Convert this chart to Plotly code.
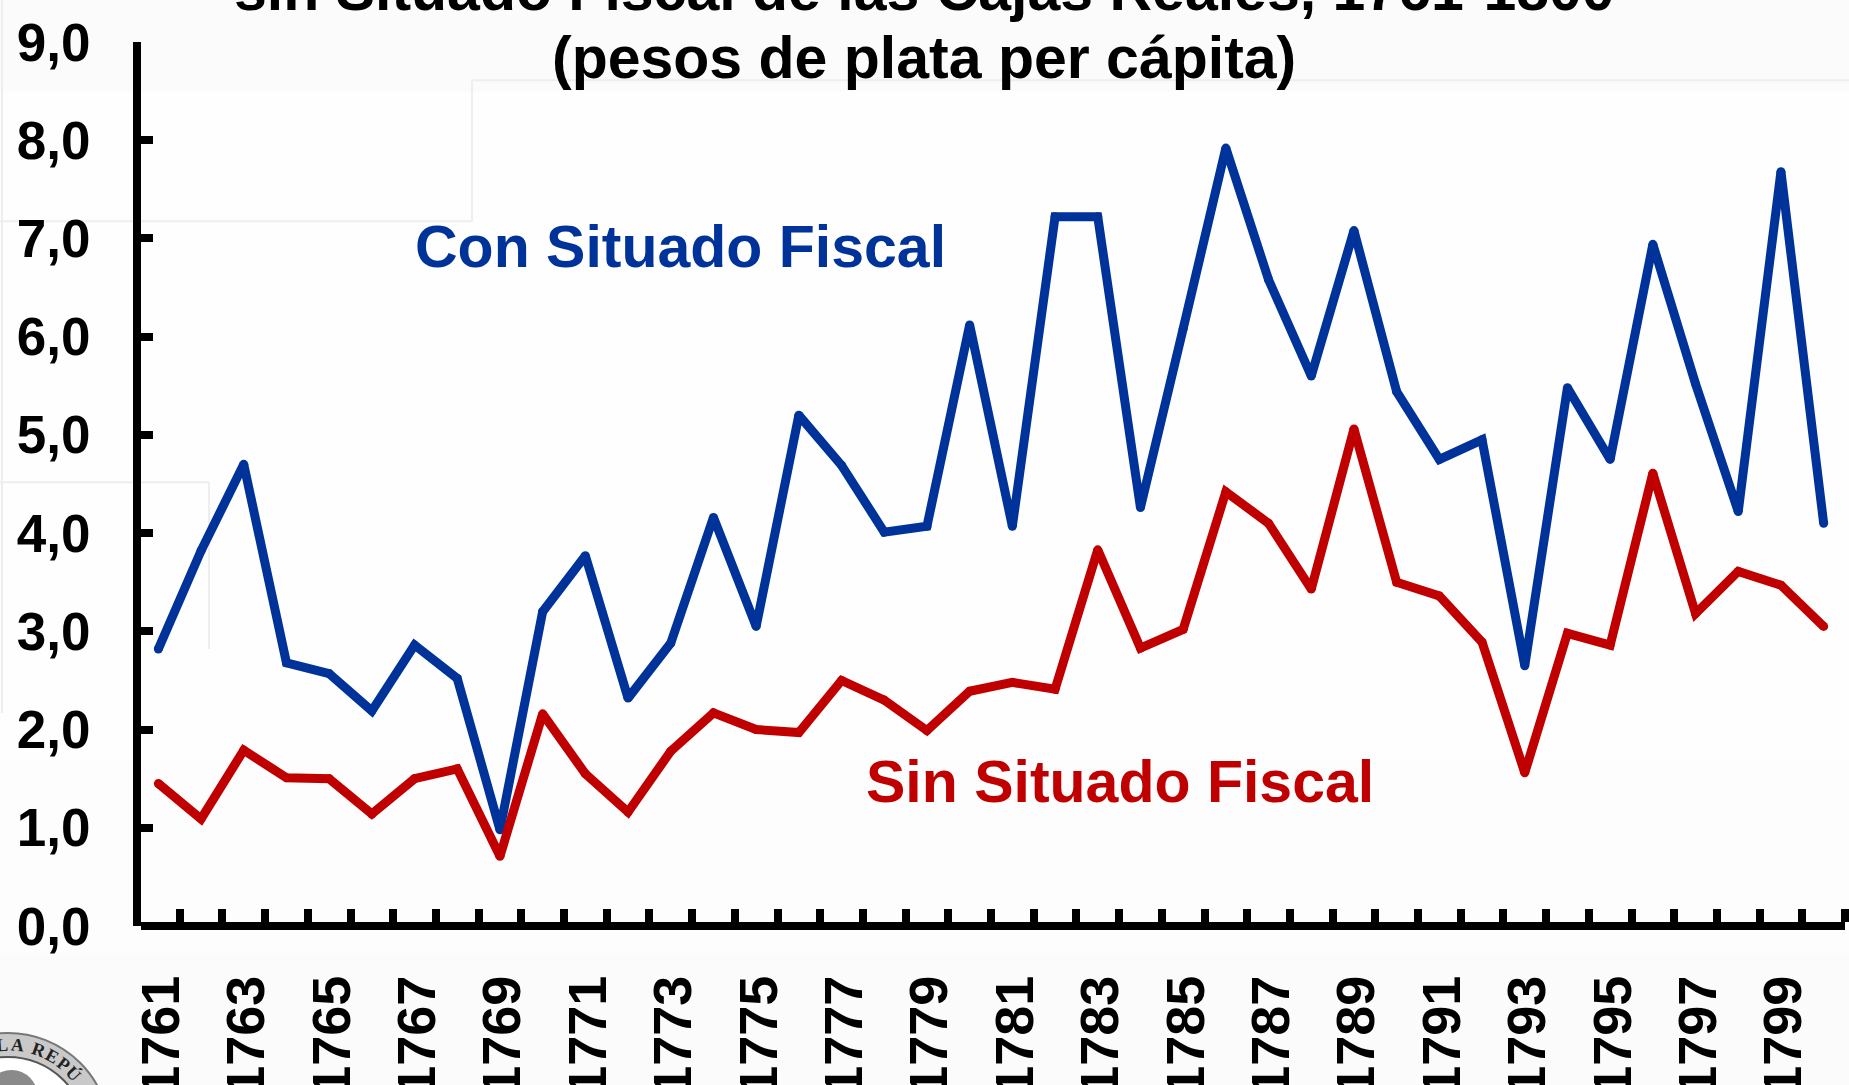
import math
import plotly.graph_objects as go

years = list(range(1761, 1801))
con_situado = [2.82, 3.82, 4.70, 2.68, 2.57, 2.19, 2.86, 2.52, 0.98, 3.20,
               3.77, 2.32, 2.88, 4.16, 3.05, 5.20, 4.69, 4.01, 4.07, 6.12,
               4.07, 7.22, 7.22, 4.26, 6.08, 7.92, 6.58, 5.60, 7.08, 5.44,
               4.75, 4.95, 2.65, 5.48, 4.75, 6.94, 5.52, 4.22, 7.68, 4.10]
sin_situado = [1.45, 1.09, 1.79, 1.51, 1.50, 1.14, 1.50, 1.60, 0.71, 2.16,
               1.55, 1.16, 1.78, 2.17, 2.00, 1.97, 2.50, 2.30, 1.99, 2.39,
               2.48, 2.41, 3.83, 2.83, 3.02, 4.42, 4.10, 3.43, 5.06, 3.50,
               3.36, 2.89, 1.56, 2.98, 2.86, 4.61, 3.18, 3.61, 3.47, 3.05]
x_labels = [str(y) for y in years[::2]]
x_label_years = years[::2]
y_ticks = list(range(0, 10))
title_lines = ["sin Situado Fiscal de las Cajas Reales, 1761-1800", "(pesos de plata per cápita)"]
BLUE = "#003399"
RED = "#C00000"
FONT = "Liberation Sans"

W, H = 1849, 1085
L, R, T, B = 141, 1845, 41.7, 926
def px(x): return (x - L) / (R - L)
def py(y): return (B - y) / (B - T)

fig = go.Figure()
for name, vals, col in [("Con Situado Fiscal", con_situado, BLUE), ("Sin Situado Fiscal", sin_situado, RED)]:
    fig.add_trace(go.Scatter(x=years, y=vals, name=name, mode="lines+markers",
                             line=dict(color=col, width=9),
                             marker=dict(color=col, size=9), cliponaxis=False))

shapes = []
def rect(x0, y0, x1, y1, fill):
    shapes.append(dict(type="rect", xref="paper", yref="paper", x0=px(x0), x1=px(x1), y0=py(y0), y1=py(y1),
                       fillcolor=fill, line_width=0, layer="below"))
def seg(x0, y0, x1, y1):
    shapes.append(dict(type="line", xref="paper", yref="paper", x0=px(x0), x1=px(x1), y0=py(y0), y1=py(y1),
                       line=dict(color="#EEEEEE", width=2), layer="below"))
rect(0, 91, W, 955, "#FDFDFD")
rect(0, 91, W, 760, "#FEFEFE")
seg(472, 80, W, 80); seg(472, 80, 472, 221); seg(0, 221, 472, 221)
seg(2, 0, 2, 713); seg(0, 482, 209, 482); seg(209, 482, 209, 649)

# seal in the lower-left corner
cx, cy = 8, 1135
def circle(r, fill, lc=None):
    shapes.append(dict(type="circle", xref="paper", yref="paper", x0=px(cx - r), x1=px(cx + r),
                       y0=py(cy + r), y1=py(cy - r), fillcolor=fill,
                       line=dict(color=lc or fill, width=2), layer="below"))
circle(102, "#C9C9C9", "#777777")
circle(78, "#FFFFFF", "#555555")
shapes.append(dict(type="circle", xref="paper", yref="paper", x0=px(-15), x1=px(38), y0=py(1125), y1=py(1070),
                   fillcolor="#8A8A8A", line_width=0, layer="below"))

title_font = dict(family=FONT, size=59, color="black", weight=700)
ann = []
ann.append(dict(text=title_lines[0], xref="paper", yref="paper", x=px(924), y=py(25),
                xanchor="center", yanchor="bottom", showarrow=False, font=title_font))
ann.append(dict(text=title_lines[1], xref="paper", yref="paper", x=px(924), y=py(93),
                xanchor="center", yanchor="bottom", showarrow=False, font=title_font))
ann.append(dict(text="Con Situado Fiscal", xref="paper", yref="paper", x=px(413), y=py(247),
                xanchor="left", yanchor="middle", showarrow=False,
                font=dict(family=FONT, size=59, color=BLUE, weight=700)))
ann.append(dict(text="Sin Situado Fiscal", xref="paper", yref="paper", x=px(864), y=py(782),
                xanchor="left", yanchor="middle", showarrow=False,
                font=dict(family=FONT, size=59, color=RED, weight=700)))
for ch, deg in zip("LA REPÚ", [-4, 6, 14, 20, 29, 38, 47]):
    a = math.radians(deg)
    ann.append(dict(text=ch, xref="paper", yref="paper", x=px(cx + 90 * math.sin(a)), y=py(cy - 90 * math.cos(a)),
                    xanchor="center", yanchor="middle", showarrow=False, textangle=deg,
                    font=dict(family="Liberation Serif", size=18, color="#222222", weight=700)))

fig.update_layout(
    width=W, height=H, autosize=False, showlegend=False,
    paper_bgcolor="#FBFBFB", plot_bgcolor="rgba(0,0,0,0)",
    margin=dict(l=L, r=W - R, t=T, b=H - B, pad=0),
    separators=",.",
    shapes=shapes, annotations=ann,
    xaxis=dict(range=[1760.5 + 4 / 42.7, 1800.5], showgrid=False, zeroline=False, automargin=False,
               anchor="free", position=0,
               showline=True, linecolor="black", linewidth=8,
               tickmode="array", tickvals=x_label_years, ticktext=x_labels, ticks="",
               tickangle=-90, ticklabelstandoff=24, ticklabelshift=3,
               tickfont=dict(family=FONT, size=54, color="black", weight=700),
               minor=dict(tick0=1760.5, dtick=1, ticks="inside", ticklen=13, tickwidth=8,
                          tickcolor="black", showgrid=False)),
    yaxis=dict(range=[0, 9], showgrid=False, zeroline=False, automargin=False,
               showline=True, linecolor="black", linewidth=8,
               tickmode="array", tickvals=y_ticks, tickformat=".1f",
               ticks="inside", ticklen=12, tickwidth=8, tickcolor="black",
               ticklabelstandoff=32,
               tickfont=dict(family=FONT, size=53, color="black", weight=700)),
)
fig.write_html("out.html", config=dict(displayModeBar=False),
               post_script="document.body.style.margin='0';document.documentElement.style.overflow='hidden';")
